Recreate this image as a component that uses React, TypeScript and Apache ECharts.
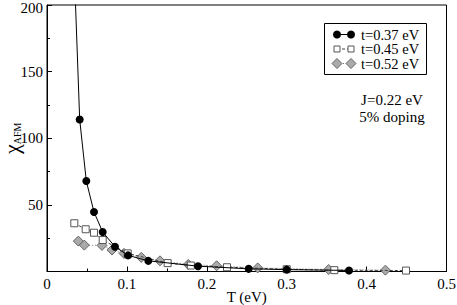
import React, { useEffect, useRef } from "react";
import * as echarts from "echarts";

const t037T = [0.0342, 0.0409, 0.0492, 0.0588, 0.0697, 0.0851, 0.1014, 0.1268, 0.189, 0.2524, 0.300, 0.378];
const t037Chi = [225, 114.1, 67.9, 44.7, 29.6, 18.6, 12.1, 8.0, 4.0, 2.0, 1.4, 0.8];

const t045T = [0.0342, 0.0484, 0.0588, 0.0697, 0.101, 0.151, 0.18, 0.2253, 0.300, 0.3596, 0.4493];
const t045Chi = [36.2, 31.7, 29.1, 23.6, 13.6, 6.3, 4.5, 3.2, 1.7, 1.0, 0.7];

const t052T = [0.0392, 0.0467, 0.0688, 0.0813, 0.0964, 0.118, 0.1414, 0.1768, 0.2123, 0.2637, 0.3525, 0.4235];
const t052Chi = [22.8, 19.8, 19.6, 16.1, 13.6, 10.6, 8.0, 5.3, 4.3, 2.7, 1.5, 1.0];

const legendLabels = ["t=0.37 eV", "t=0.45 eV", "t=0.52 eV"];
const annotation = ["J=0.22 eV", "5% doping"];

const FONT = '"Liberation Serif", "Times New Roman", serif';

function pairs(xs: number[], ys: number[]) {
  return xs.map((x, i) => [x, ys[i]]);
}

export default function App() {
  const ref = useRef<HTMLDivElement>(null);
  useEffect(() => {
    if (!ref.current) return;
    const chart = echarts.init(ref.current, undefined, { renderer: "svg" });
    const rowY = [34.5, 49, 63.5];
    const legendGraphics: any[] = [
      {
        type: "rect",
        shape: { x: 324.5, y: 23.5, width: 102, height: 51 },
        style: { fill: "#fff", stroke: "#000", lineWidth: 1 },
        z: 10,
      },
    ];
    const x1 = 337, x2 = 351;
    legendGraphics.push(
      { type: "line", shape: { x1, y1: rowY[0], x2, y2: rowY[0] }, style: { stroke: "#000", lineWidth: 1 }, z: 11 },
      { type: "circle", shape: { cx: x1, cy: rowY[0], r: 4 }, style: { fill: "#000" }, z: 12 },
      { type: "circle", shape: { cx: x2, cy: rowY[0], r: 4 }, style: { fill: "#000" }, z: 12 },
      { type: "line", shape: { x1, y1: rowY[1], x2, y2: rowY[1] }, style: { stroke: "#444", lineWidth: 1, lineDash: [3, 2] }, z: 11 },
      { type: "rect", shape: { x: x1 - 3, y: rowY[1] - 3, width: 6, height: 6 }, style: { fill: "#fff", stroke: "#555", lineWidth: 1 }, z: 12 },
      { type: "rect", shape: { x: x2 - 3, y: rowY[1] - 3, width: 6, height: 6 }, style: { fill: "#fff", stroke: "#555", lineWidth: 1 }, z: 12 },
      { type: "line", shape: { x1, y1: rowY[2], x2, y2: rowY[2] }, style: { stroke: "#777", lineWidth: 1, lineDash: [1, 2] }, z: 11 },
      { type: "polygon", shape: { points: [[x1, rowY[2] - 5], [x1 + 5, rowY[2]], [x1, rowY[2] + 5], [x1 - 5, rowY[2]]] }, style: { fill: "#aaa", stroke: "#666", lineWidth: 1 }, z: 12 },
      { type: "polygon", shape: { points: [[x2, rowY[2] - 5], [x2 + 5, rowY[2]], [x2, rowY[2] + 5], [x2 - 5, rowY[2]]] }, style: { fill: "#aaa", stroke: "#666", lineWidth: 1 }, z: 12 }
    );
    legendLabels.forEach((l, i) => {
      legendGraphics.push({
        type: "text",
        x: 361,
        y: rowY[i],
        style: { text: l, fontFamily: FONT, fontSize: 14.5, lineHeight: 14, fill: "#000", verticalAlign: "middle", align: "left" },
        z: 12,
      });
    });
    annotation.forEach((l, i) => {
      legendGraphics.push({
        type: "text",
        x: 392,
        y: 100 + i * 17,
        style: { text: l, fontFamily: FONT, fontSize: 15, lineHeight: 15, fill: "#000", verticalAlign: "middle", align: "center" },
        z: 12,
      });
    });

    chart.setOption({
      animation: false,
      backgroundColor: "#fff",
      grid: {
        left: 47, top: 5, right: 10.5, bottom: 33.5,
        outerBoundsMode: "none",
        containLabel: false,
        show: true, borderColor: "#000", borderWidth: 1, backgroundColor: "transparent",
      },
      xAxis: {
        type: "value",
        min: 0,
        max: 0.5,
        interval: 0.1,
        name: "T (eV)",
        nameLocation: "middle",
        nameGap: 18,
        nameMoveOverlap: false,
        nameTextStyle: { fontFamily: FONT, fontSize: 15, color: "#000", lineHeight: 14 },
        axisLine: { show: true, lineStyle: { color: "#000", width: 1 } },
        axisTick: { show: true, inside: true, length: 5, lineStyle: { color: "#000" } },
        minorTick: { show: true, splitNumber: 2, length: 3, lineStyle: { color: "#000" } },
        splitLine: { show: false },
        axisLabel: {
          fontFamily: FONT,
          fontSize: 15,
          color: "#000",
          margin: 5,
          formatter: (v: number) => (v === 0 ? "0" : v.toFixed(1)),
        },
      },
      yAxis: {
        type: "value",
        min: 0,
        max: 200,
        interval: 50,
        name: "{a|χ}{b|AFM}",
        nameLocation: "middle",
        nameRotate: 90,
        nameGap: 25,
        nameMoveOverlap: false,
        nameTextStyle: {
          rich: {
            a: { fontFamily: FONT, fontSize: 22, color: "#000", verticalAlign: "bottom", lineHeight: 18 },
            b: { fontFamily: FONT, fontSize: 10, color: "#000", verticalAlign: "bottom", lineHeight: 13 },
          },
        },
        axisLine: { show: true, lineStyle: { color: "#000", width: 1 } },
        axisTick: { show: true, inside: true, length: 5, lineStyle: { color: "#000" } },
        minorTick: { show: true, splitNumber: 2, length: 3, lineStyle: { color: "#000" } },
        splitLine: { show: false },
        axisLabel: {
          fontFamily: FONT,
          fontSize: 15,
          color: "#000",
          margin: 4,
          formatter: (v: number) => (v === 0 ? "" : v === 200 ? "{top|200}" : String(v)),
          rich: {
            top: { fontFamily: FONT, fontSize: 15, color: "#000", padding: [5, 0, 0, 0] },
          },
        },
      },
      series: [
        {
          name: legendLabels[2],
          type: "line",
          data: pairs(t052T, t052Chi),
          symbol: "diamond",
          symbolSize: 10,
          lineStyle: { color: "#777", width: 1, type: [1, 2] },
          itemStyle: { color: "#aaa", borderColor: "#666", borderWidth: 1 },
          clip: true,
          z: 2,
        },
        {
          name: legendLabels[1],
          type: "line",
          data: pairs(t045T, t045Chi),
          symbol: "rect",
          symbolSize: 7,
          lineStyle: { color: "#444", width: 1, type: [3, 2] },
          itemStyle: { color: "#fff", borderColor: "#555", borderWidth: 1 },
          clip: true,
          z: 3,
        },
        {
          name: legendLabels[0],
          type: "line",
          data: pairs(t037T, t037Chi),
          symbol: "circle",
          symbolSize: 8,
          lineStyle: { color: "#000", width: 1 },
          itemStyle: { color: "#000" },
          clip: true,
          z: 4,
        },
      ],
      graphic: legendGraphics,
    });
    return () => chart.dispose();
  }, []);
  return (
    <div
      ref={ref}
      style={{ position: "absolute", left: 0, top: 0, width: 457, height: 305 }}
    />
  );
}
